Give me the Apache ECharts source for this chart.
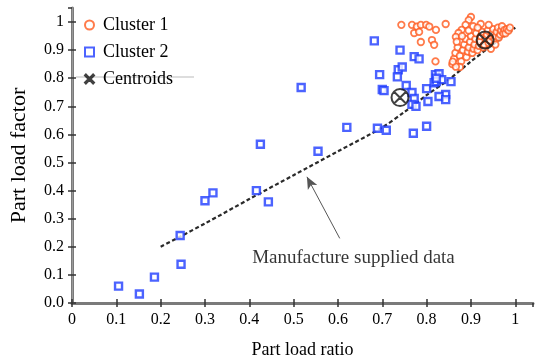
<!DOCTYPE html>
<html><head><meta charset="utf-8">
<script src="https://cdn.jsdelivr.net/npm/echarts@6/dist/echarts.min.js"></script>
<style>html,body{margin:0;padding:0;background:#fff}#c{width:536px;height:364px}</style>
</head><body><div id="c"></div>
<script>
const cluster1 = [
[0.743,0.99],[0.767,0.99],[0.778,0.984],[0.787,0.99],[0.799,0.99],[0.806,0.984],[0.772,0.961],[0.783,0.965],
[0.787,0.929],[0.812,0.936],[0.817,0.919],[0.821,0.972],[0.843,0.993],[0.82,0.86],[0.9,1.018],[0.895,1.007],
[0.888,0.99],[0.879,0.972],[0.872,0.961],[0.866,0.947],[0.922,0.993],
[0.858,0.85],[0.862,0.87],[0.865,0.89],[0.87,0.91],[0.868,0.93],[0.875,0.88],[0.878,0.86],[0.882,0.9],
[0.885,0.92],[0.888,0.94],[0.89,0.875],[0.893,0.895],[0.895,0.91],[0.898,0.93],[0.9,0.95],[0.903,0.89],
[0.906,0.905],[0.908,0.92],[0.91,0.94],[0.912,0.96],[0.915,0.9],[0.918,0.915],[0.92,0.93],[0.922,0.95],
[0.925,0.965],[0.928,0.91],[0.93,0.92],[0.933,0.94],[0.936,0.955],[0.938,0.97],[0.94,0.925],[0.943,0.935],
[0.946,0.95],[0.948,0.96],[0.95,0.975],[0.953,0.94],[0.956,0.95],[0.958,0.965],[0.961,0.98],[0.963,0.945],
[0.966,0.955],[0.968,0.97],[0.97,0.985],[0.973,0.96],[0.976,0.972],[0.978,0.96],[0.981,0.975],[0.985,0.97],
[0.988,0.98],[0.875,0.84],[0.866,0.841],[0.859,0.859],[0.88,0.95],[0.895,0.97],[0.905,0.985],[0.915,0.98],
[0.94,0.99],[0.945,0.905],[0.955,0.92]
];
const cluster2 = [
[0.105,0.06],[0.152,0.032],[0.186,0.092],[0.246,0.138],[0.244,0.24],[0.30,0.364],[0.318,0.392],[0.416,0.40],
[0.425,0.565],[0.443,0.36],[0.517,0.767],[0.555,0.54],[0.62,0.625],[0.689,0.622],[0.709,0.615],[0.77,0.604],
[0.80,0.629],[0.682,0.933],[0.74,0.90],[0.772,0.877],[0.783,0.869],[0.694,0.813],[0.736,0.83],[0.734,0.805],
[0.745,0.84],[0.82,0.813],[0.828,0.816],[0.70,0.76],[0.704,0.756],[0.754,0.774],[0.767,0.749],[0.772,0.728],
[0.80,0.763],[0.817,0.784],[0.822,0.788],[0.834,0.795],[0.855,0.788],[0.843,0.742],[0.828,0.735],[0.767,0.707],
[0.776,0.70],[0.803,0.717],[0.843,0.724],[0.822,0.80]
];
const centroids = [[0.74,0.731],[0.932,0.936]];
const manufacturer = [[0.2,0.2],[0.3,0.283],[0.4,0.37],[0.5,0.455],[0.6,0.54],[0.7,0.625],[0.75,0.68],[0.8,0.74],[0.85,0.795],[0.9,0.86],[0.95,0.92],[1.0,0.98]];
const arrowFrom = [0.604,0.23];
const arrowTo = [0.53,0.449];
const annotationText = 'Manufacture supplied data';
const annotationPos = [0.635,0.159];
const xTicks = ['0','0.1','0.2','0.3','0.4','0.5','0.6','0.7','0.8','0.9','1'];
const yTicks = ['0.0','0.1','0.2','0.3','0.4','0.5','0.6','0.7','0.8','0.9','1'];

const FONT = 'Liberation Serif';
const circX = 'path://M0,10 A10,10 0 1,1 20,10 A10,10 0 1,1 0,10 Z M3,3 L17,17 M17,3 L3,17';
const xIcon = 'path://M2,0 L10,8 L18,0 L20,2 L12,10 L20,18 L18,20 L10,12 L2,20 L0,18 L8,10 L0,2 Z';
const fmtX = v => xTicks[Math.round(v*10)] ?? '';
const fmtY = v => yTicks[Math.round(v*10)] ?? '';
const axisCommon = {
  type:'value', min:0, interval:0.1,
  splitLine:{show:false},
  axisLine:{show:true, lineStyle:{color:'#7a7a7a', width:3}},
  axisTick:{show:true, inside:true, length:4, lineStyle:{color:'#333', width:1.5}},
};
const chart = echarts.init(document.getElementById('c'));
chart.setOption({
  animation:false,
  textStyle:{fontFamily:FONT},
  grid:{left:70, right:3, top:8, bottom:59},
  legend:{
    left:79, top:11, orient:'vertical', itemGap:9, itemWidth:9, itemHeight:9,
    textStyle:{fontFamily:FONT, fontSize:18, color:'#000', padding:[0,0,0,4]},
    data:[{name:'Cluster 1', icon:'circle'},{name:'Cluster 2', icon:'rect'},{name:'Centroids', icon:xIcon}]
  },
  xAxis:[
    Object.assign({}, axisCommon, {max:1.04, position:'bottom',
      name:'Part load ratio', nameLocation:'middle', nameGap:38,
      nameTextStyle:{fontFamily:FONT, fontSize:18, color:'#000'},
      axisLabel:{fontFamily:FONT, fontSize:16, color:'#000', margin:9, showMaxLabel:false, formatter:fmtX}}),
    Object.assign({}, axisCommon, {max:1.04, position:'top', axisLabel:{show:false},
      axisLine:{show:true, lineStyle:{color:'#7a7a7a', width:2}}})
  ],
  yAxis:[
    Object.assign({}, axisCommon, {max:1.05, position:'left',
      name:'Part load factor', nameLocation:'middle', nameGap:42,
      nameTextStyle:{fontFamily:FONT, fontSize:22, color:'#000'},
      axisLabel:{fontFamily:FONT, fontSize:16, color:'#000', margin:8, showMaxLabel:false, formatter:fmtY}}),
    Object.assign({}, axisCommon, {max:1.05, position:'right', axisLabel:{show:false},
      axisLine:{show:true, lineStyle:{color:'#9a9a9a', width:1}}})
  ],
  series:[
    {name:'Manufacturer', type:'line', data:manufacturer, symbol:'none', smooth:0.3,
     lineStyle:{color:'#2a2a2a', width:2.2, type:[4,2.5]}, z:3,
     markLine:{silent:true, symbol:['none','arrow'], symbolSize:[8,12],
       lineStyle:{color:'#555', width:1, type:'solid'}, label:{show:false},
       data:[[{coord:arrowFrom},{coord:arrowTo}]]}},
    {name:'Cluster 1', type:'scatter', data:cluster1, symbol:'circle', symbolSize:6.5,
     itemStyle:{color:'#fff', borderColor:'#ff5a1e', borderWidth:1.8}, z:4},
    {name:'Cluster 2', type:'scatter', data:cluster2, symbol:'rect', symbolSize:7,
     itemStyle:{color:'#fff', borderColor:'#1f3cff', borderWidth:2.4}, z:4},
    {name:'Centroids', type:'scatter', data:centroids, symbol:circX, symbolSize:17,
     itemStyle:{color:'rgba(0,0,0,0)', borderColor:'#111', borderWidth:2}, z:6},
    {name:'annotation', type:'scatter', data:[annotationPos], symbolSize:0,
     label:{show:true, position:'inside', formatter:annotationText, fontFamily:FONT, fontSize:19, color:'#000'}, z:5}
  ],
  graphic:[{type:'line', shape:{x1:76, y1:77, x2:194, y2:77}, style:{stroke:'#bbb', lineWidth:1}, z:-1}]
});
</script></body></html>
